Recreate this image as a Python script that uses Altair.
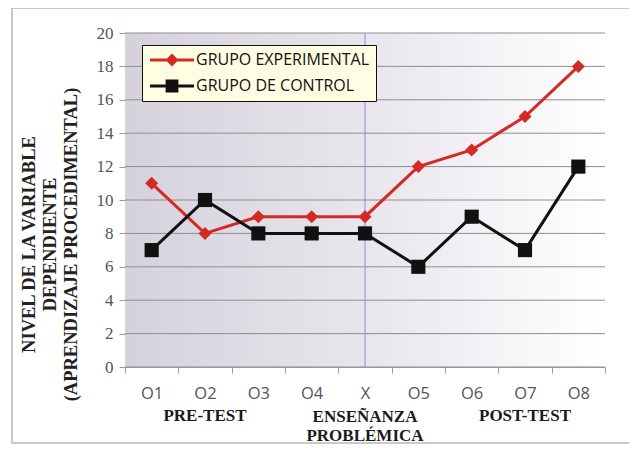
import altair as alt
import pandas as pd

categories = ["O1", "O2", "O3", "O4", "X", "O5", "O6", "O7", "O8"]
experimental = [11, 8, 9, 9, 9, 12, 13, 15, 18]
control = [7, 10, 8, 8, 8, 6, 9, 7, 12]
series_names = ["GRUPO EXPERIMENTAL", "GRUPO DE CONTROL"]
series_colors = ["#d42a24", "#111111"]
phase_cats = ["O2", "X", "O7"]
phase_labels = ["PRE-TEST", "ENSEÑANZA\nPROBLÉMICA", "POST-TEST"]
y_title = ["NIVEL  DE LA VARIABLE", "DEPENDIENTE", "(APRENDIZAJE PROCEDIMENTAL)"]
y_ticks = list(range(0, 21, 2))

rows = []
for c, e, k in zip(categories, experimental, control):
    rows.append({"obs": c, "serie": series_names[0], "valor": e})
    rows.append({"obs": c, "serie": series_names[1], "valor": k})
df = pd.DataFrame(rows)
phases = pd.DataFrame({"obs": phase_cats, "label": phase_labels})
grid_df = pd.DataFrame({"valor": y_ticks})

W, H = 480, 334

xscale = alt.Scale(domain=categories, paddingInner=0, paddingOuter=0)
yscale = alt.Scale(domain=[0, 20])
cscale = alt.Scale(domain=series_names, range=series_colors)

x_axis = alt.Axis(
    title=None, labelAngle=0, labelFont="Open Sans", labelFontSize=16.5,
    labelColor="#555555", labelPadding=12, domainColor="#999999",
    tickColor="#999999", tickBand="extent", tickSize=6, grid=False, zindex=1)
y_axis = alt.Axis(
    values=y_ticks, title=y_title,
    titleFont="Liberation Serif", titleFontSize=18.5, titleFontWeight="bold",
    titleColor="#222222", titleLineHeight=21, titleAngle=-90,
    titleBaseline="top", titleAlign="center", titleX=-106, titleY=211,
    labelFont="Liberation Serif", labelFontSize=17, labelColor="#555555",
    labelPadding=6, labelOverlap=False, grid=False, zindex=1,
    domain=False, tickColor="#999999", tickSize=6)

X = alt.X("obs:N", scale=xscale, sort=categories, axis=x_axis)
Y = alt.Y("valor:Q", scale=yscale, axis=y_axis)

# legend symbols: line stub + marker (filled paths), unit = 8px
diamond_path = "M-2.75,-0.19L2.75,-0.19L2.75,0.19L-2.75,0.19ZM0,-0.8L0.8,0L0,0.8L-0.8,0Z"
square_path = "M-2.75,-0.19L2.75,-0.19L2.75,0.19L-2.75,0.19ZM-0.8,-0.8L0.8,-0.8L0.8,0.8L-0.8,0.8Z"

frame = alt.Chart(pd.DataFrame({"a": [0]})).mark_rect(
    fill="white", stroke="#b8b8b8", strokeWidth=1.5
).encode(x=alt.value(-113), x2=alt.value(W + 40), y=alt.value(-25), y2=alt.value(H + 76))

bg = alt.Chart(pd.DataFrame({"a": [0]})).mark_rect(
    fill=alt.Gradient(
        gradient="linear", x1=0, x2=1, y1=0, y2=0,
        stops=[alt.GradientStop(color="#d6d2dc", offset=0),
               alt.GradientStop(color="#e8e5ec", offset=0.5),
               alt.GradientStop(color="#ffffff", offset=1)],
    )
).encode(x=alt.value(0), x2=alt.value(W), y=alt.value(0), y2=alt.value(H))

grid = alt.Chart(grid_df).mark_rule(color="#8e8e8e", strokeWidth=1).encode(
    y=Y, x=alt.value(0), x2=alt.value(W))

color_enc = alt.Color("serie:N", scale=cscale, sort=series_names, legend=alt.Legend(title=None))

base = alt.Chart(df).encode(x=X, y=Y, color=color_enc)

lines = base.mark_line(strokeWidth=3)
pts_exp = base.transform_filter(alt.datum.serie == series_names[0]).mark_point(
    filled=True, opacity=1, size=170, shape="diamond")
pts_ctl = base.transform_filter(alt.datum.serie == series_names[1]).mark_point(
    filled=True, opacity=1, size=200, shape="square")

legend_layer = base.transform_filter("false").mark_point(filled=True, opacity=1).encode(
    shape=alt.Shape("serie:N", sort=series_names,
                    scale=alt.Scale(domain=series_names, range=[diamond_path, square_path]),
                    legend=alt.Legend(title=None)),
)

vline = alt.Chart(pd.DataFrame({"obs": ["X"]})).mark_rule(color="#8c8ce0", strokeWidth=1).encode(
    x=X, y=alt.value(0), y2=alt.value(H))

text_kw = dict(font="Liberation Serif", fontSize=17, fontWeight="bold", color="#1a1a1a",
               baseline="top", lineBreak="\n", lineHeight=18.5)
phase_side = alt.Chart(phases).transform_filter(alt.datum.obs != "X").mark_text(**text_kw).encode(
    x=X, y=alt.value(H + 41), text="label:N")
phase_mid = alt.Chart(phases).transform_filter(alt.datum.obs == "X").mark_text(**text_kw).encode(
    x=X, y=alt.value(H + 42), text="label:N")

chart = alt.layer(frame, bg, grid, vline, lines, pts_exp, pts_ctl, legend_layer,
                  phase_side, phase_mid).properties(
    width=W, height=H,
    autosize=alt.AutoSizeParams(type="none"),
    padding={"left": 117, "top": 25, "right": 24, "bottom": 77},
).configure_view(stroke=None).configure_legend(
    orient="none", legendX=17, legendY=12,
    fillColor="#fffde2", strokeColor="#111111", padding=7,
    labelFont="Open Sans", labelFontSize=16, labelColor="#111111", labelLimit=400,
    labelOffset=16, rowPadding=10, symbolSize=256, symbolStrokeWidth=0,
    symbolOffset=15, symbolOpacity=1,
)

chart.save("out.html", embed_options={"renderer": "svg", "actions": False})
